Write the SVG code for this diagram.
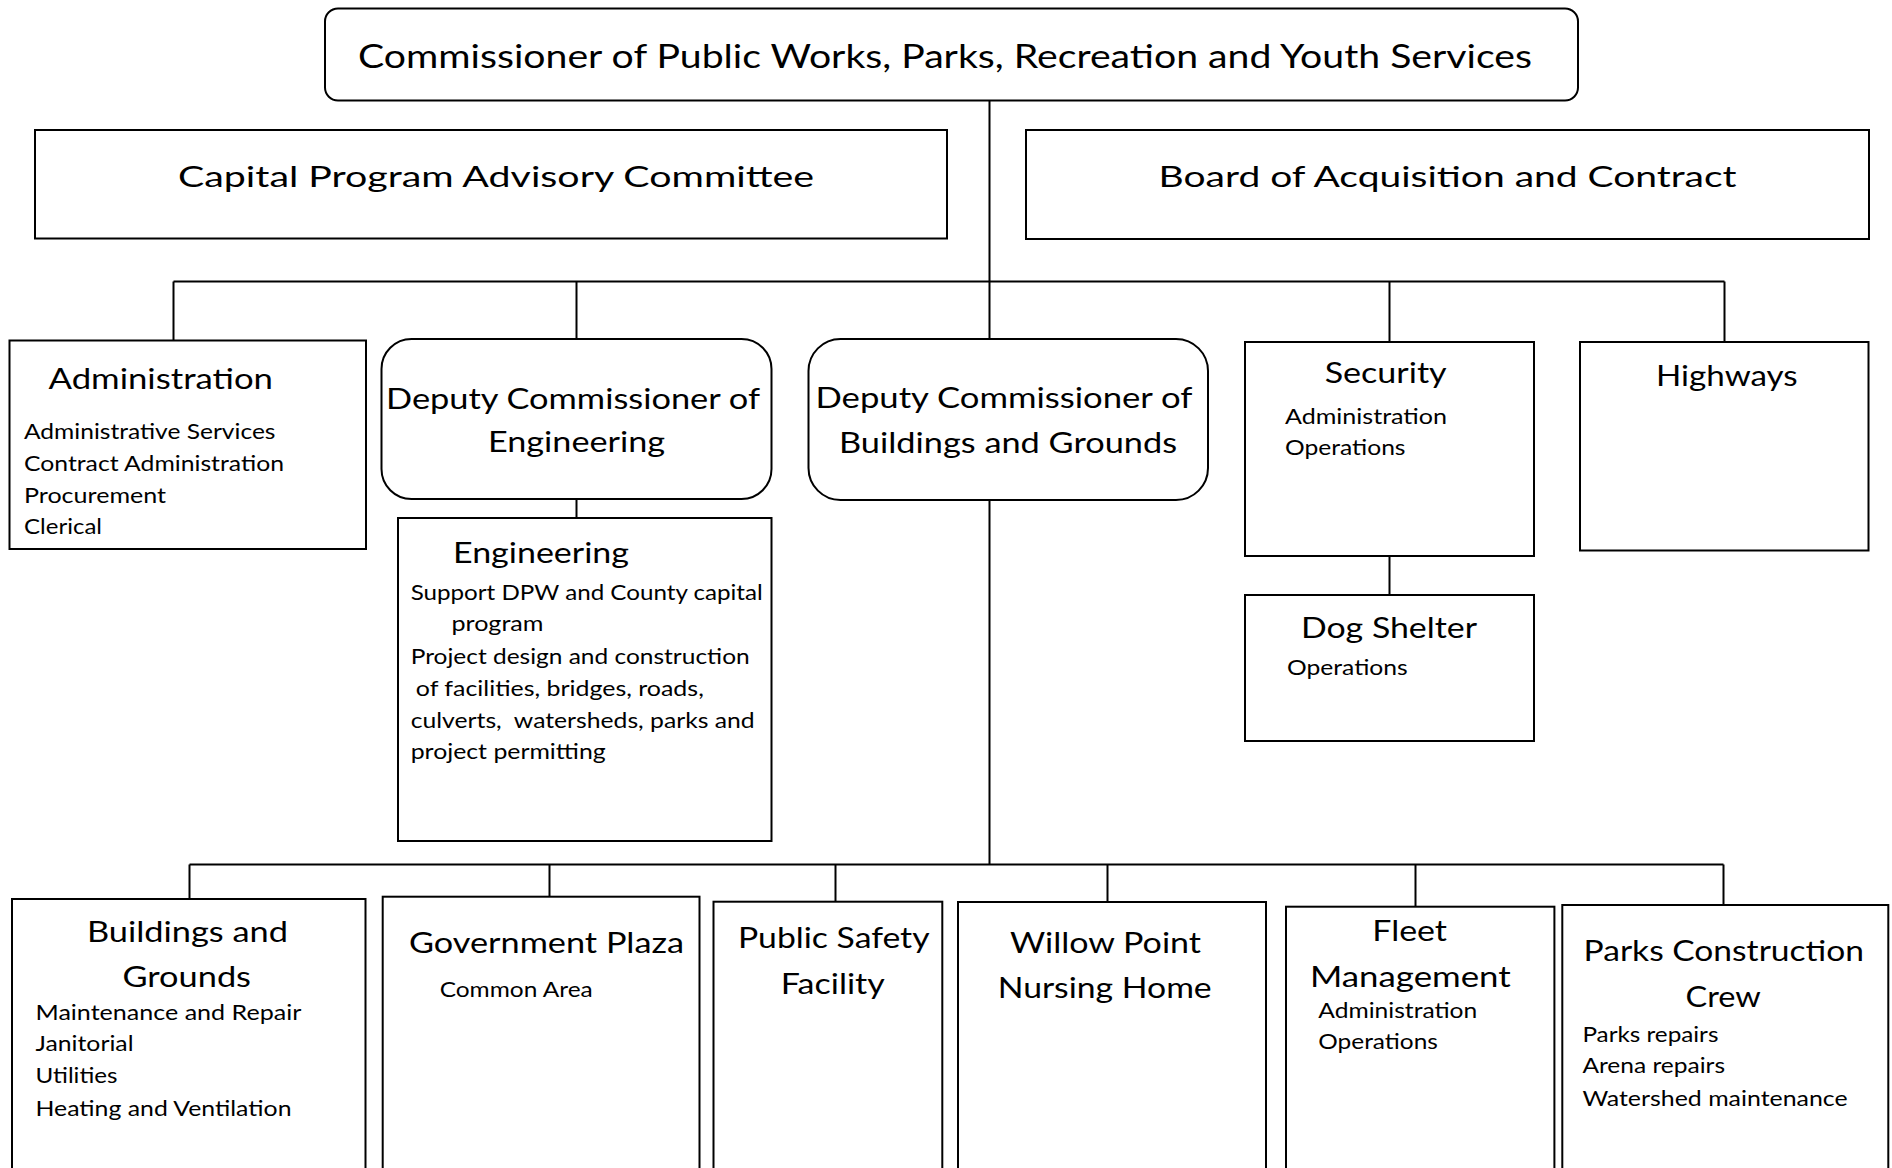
<svg xmlns="http://www.w3.org/2000/svg" width="1892" height="1168" viewBox="0 0 1892 1168">
<style>
  .box { fill: #ffffff; stroke: #000000; stroke-width: 2; }
  .conn { stroke: #000000; stroke-width: 2; fill: none; }
  text { font-family: Lato, "Open Sans", sans-serif; fill: #000000; }
  .top { font-size: 32.5px; }
  .big { font-size: 29.5px; }
  .ttl { font-size: 29px; }
  .itm { font-size: 21px; }
</style>
<rect x="0" y="0" width="1892" height="1168" fill="#ffffff"/>

<g id="connectors">
  <line class="conn" x1="989.5" y1="101" x2="989.5" y2="865"/>
  <line class="conn" x1="173.5" y1="281.5" x2="1724.5" y2="281.5"/>
  <line class="conn" x1="173.5" y1="281.5" x2="173.5" y2="340"/>
  <line class="conn" x1="576.5" y1="281.5" x2="576.5" y2="339"/>
  <line class="conn" x1="1389.5" y1="281.5" x2="1389.5" y2="342"/>
  <line class="conn" x1="1724.5" y1="281.5" x2="1724.5" y2="342"/>
  <line class="conn" x1="576.5" y1="499" x2="576.5" y2="518"/>
  <line class="conn" x1="1389.5" y1="556" x2="1389.5" y2="595"/>
  <line class="conn" x1="189.5" y1="864.5" x2="1723.5" y2="864.5"/>
  <line class="conn" x1="189.5" y1="864.5" x2="189.5" y2="899"/>
  <line class="conn" x1="549.5" y1="864.5" x2="549.5" y2="897"/>
  <line class="conn" x1="835.5" y1="864.5" x2="835.5" y2="902"/>
  <line class="conn" x1="1107.5" y1="864.5" x2="1107.5" y2="902"/>
  <line class="conn" x1="1415.5" y1="864.5" x2="1415.5" y2="907"/>
  <line class="conn" x1="1723.5" y1="864.5" x2="1723.5" y2="905"/>
</g>

<g id="commissioner">
  <rect class="box" x="325" y="8.5" width="1253" height="92" rx="13" ry="13"/>
  <text class="top" x="358" y="68" textLength="1174" lengthAdjust="spacingAndGlyphs">Commissioner of Public Works, Parks, Recreation and Youth Services</text>
</g>

<g id="capital-committee">
  <rect class="box" x="35" y="130" width="912" height="108.5"/>
  <text class="big" x="178" y="186.5" textLength="636" lengthAdjust="spacingAndGlyphs">Capital Program Advisory Committee</text>
</g>

<g id="board-acquisition">
  <rect class="box" x="1026" y="130" width="843" height="109"/>
  <text class="big" x="1158.6" y="187" textLength="578" lengthAdjust="spacingAndGlyphs">Board of Acquisition and Contract</text>
</g>

<g id="administration">
  <rect class="box" x="9.5" y="340.5" width="356.5" height="208.5"/>
  <text class="ttl" x="48.5" y="389" textLength="224.5" lengthAdjust="spacingAndGlyphs">Administration</text>
  <text class="itm" x="24" y="438.6" textLength="251.5" lengthAdjust="spacingAndGlyphs">Administrative Services</text>
  <text class="itm" x="24" y="471.4" textLength="260" lengthAdjust="spacingAndGlyphs">Contract Administration</text>
  <text class="itm" x="24" y="503" textLength="142" lengthAdjust="spacingAndGlyphs">Procurement</text>
  <text class="itm" x="24" y="534" textLength="78" lengthAdjust="spacingAndGlyphs">Clerical</text>
</g>

<g id="deputy-engineering">
  <rect class="box" x="381.5" y="339" width="390" height="160" rx="30" ry="30"/>
  <text class="ttl" x="386" y="409" textLength="374" lengthAdjust="spacingAndGlyphs">Deputy Commissioner of</text>
  <text class="ttl" x="488" y="452" textLength="177" lengthAdjust="spacingAndGlyphs">Engineering</text>
</g>

<g id="engineering">
  <rect class="box" x="398" y="518" width="373.5" height="323"/>
  <text class="ttl" x="453" y="562.5" textLength="176" lengthAdjust="spacingAndGlyphs">Engineering</text>
  <text class="itm" x="410.7" y="600" textLength="352" lengthAdjust="spacingAndGlyphs">Support DPW and County capital</text>
  <text class="itm" x="451.5" y="631.4" textLength="92" lengthAdjust="spacingAndGlyphs">program</text>
  <text class="itm" x="410.7" y="664.3" textLength="339" lengthAdjust="spacingAndGlyphs">Project design and construction</text>
  <text class="itm" x="415.8" y="696.4" textLength="288" lengthAdjust="spacingAndGlyphs">of facilities, bridges, roads,</text>
  <text class="itm" x="410.7" y="728" textLength="344" lengthAdjust="spacingAndGlyphs" style="white-space:pre">culverts,  watersheds, parks and</text>
  <text class="itm" x="410.7" y="759" textLength="195" lengthAdjust="spacingAndGlyphs">project permitting</text>
</g>

<g id="deputy-buildings">
  <rect class="box" x="808.5" y="339" width="399.5" height="161" rx="32" ry="32"/>
  <text class="ttl" x="815.5" y="408" textLength="377" lengthAdjust="spacingAndGlyphs">Deputy Commissioner of</text>
  <text class="ttl" x="839" y="453" textLength="338" lengthAdjust="spacingAndGlyphs">Buildings and Grounds</text>
</g>

<g id="security">
  <rect class="box" x="1245" y="342" width="289" height="214"/>
  <text class="ttl" x="1324.7" y="383" textLength="122" lengthAdjust="spacingAndGlyphs">Security</text>
  <text class="itm" x="1285" y="424" textLength="162" lengthAdjust="spacingAndGlyphs">Administration</text>
  <text class="itm" x="1285" y="455" textLength="120.5" lengthAdjust="spacingAndGlyphs">Operations</text>
</g>

<g id="highways">
  <rect class="box" x="1580" y="342" width="288.5" height="208.5"/>
  <text class="ttl" x="1656" y="386" textLength="141.7" lengthAdjust="spacingAndGlyphs">Highways</text>
</g>

<g id="dog-shelter">
  <rect class="box" x="1245" y="595" width="289" height="146"/>
  <text class="ttl" x="1301" y="638" textLength="176" lengthAdjust="spacingAndGlyphs">Dog Shelter</text>
  <text class="itm" x="1287" y="675" textLength="120.7" lengthAdjust="spacingAndGlyphs">Operations</text>
</g>

<g id="buildings-grounds">
  <rect class="box" x="12" y="899" width="353.5" height="290"/>
  <text class="ttl" x="87" y="941.7" textLength="201" lengthAdjust="spacingAndGlyphs">Buildings and</text>
  <text class="ttl" x="122.5" y="986.7" textLength="128.5" lengthAdjust="spacingAndGlyphs">Grounds</text>
  <text class="itm" x="35.5" y="1020" textLength="265.8" lengthAdjust="spacingAndGlyphs">Maintenance and Repair</text>
  <text class="itm" x="35.5" y="1050.7" textLength="98" lengthAdjust="spacingAndGlyphs">Janitorial</text>
  <text class="itm" x="35.5" y="1083" textLength="82" lengthAdjust="spacingAndGlyphs">Utilities</text>
  <text class="itm" x="35.5" y="1116" textLength="256" lengthAdjust="spacingAndGlyphs">Heating and Ventilation</text>
</g>

<g id="government-plaza">
  <rect class="box" x="382.7" y="896.7" width="316.8" height="290"/>
  <text class="ttl" x="409" y="953" textLength="275" lengthAdjust="spacingAndGlyphs">Government Plaza</text>
  <text class="itm" x="439.7" y="997" textLength="153" lengthAdjust="spacingAndGlyphs">Common Area</text>
</g>

<g id="public-safety">
  <rect class="box" x="713.5" y="901.7" width="228.8" height="290"/>
  <text class="ttl" x="738" y="948.3" textLength="191.6" lengthAdjust="spacingAndGlyphs">Public Safety</text>
  <text class="ttl" x="780.8" y="994" textLength="104" lengthAdjust="spacingAndGlyphs">Facility</text>
</g>

<g id="willow-point">
  <rect class="box" x="958" y="902" width="308" height="290"/>
  <text class="ttl" x="1010" y="953" textLength="191" lengthAdjust="spacingAndGlyphs">Willow Point</text>
  <text class="ttl" x="997.7" y="998" textLength="214" lengthAdjust="spacingAndGlyphs">Nursing Home</text>
</g>

<g id="fleet-management">
  <rect class="box" x="1286" y="906.7" width="268.4" height="290"/>
  <text class="ttl" x="1372.3" y="940.7" textLength="74.7" lengthAdjust="spacingAndGlyphs">Fleet</text>
  <text class="ttl" x="1310" y="986.7" textLength="200.7" lengthAdjust="spacingAndGlyphs">Management</text>
  <text class="itm" x="1318.3" y="1017.7" textLength="159" lengthAdjust="spacingAndGlyphs">Administration</text>
  <text class="itm" x="1318.3" y="1049.3" textLength="119.6" lengthAdjust="spacingAndGlyphs">Operations</text>
</g>

<g id="parks-construction">
  <rect class="box" x="1562.3" y="905" width="326" height="290"/>
  <text class="ttl" x="1583.6" y="960.7" textLength="280.4" lengthAdjust="spacingAndGlyphs">Parks Construction</text>
  <text class="ttl" x="1685.6" y="1006.7" textLength="75.3" lengthAdjust="spacingAndGlyphs">Crew</text>
  <text class="itm" x="1582.4" y="1041.7" textLength="136" lengthAdjust="spacingAndGlyphs">Parks repairs</text>
  <text class="itm" x="1582.4" y="1073" textLength="142.7" lengthAdjust="spacingAndGlyphs">Arena repairs</text>
  <text class="itm" x="1582.4" y="1105.7" textLength="265.3" lengthAdjust="spacingAndGlyphs">Watershed maintenance</text>
</g>
</svg>
